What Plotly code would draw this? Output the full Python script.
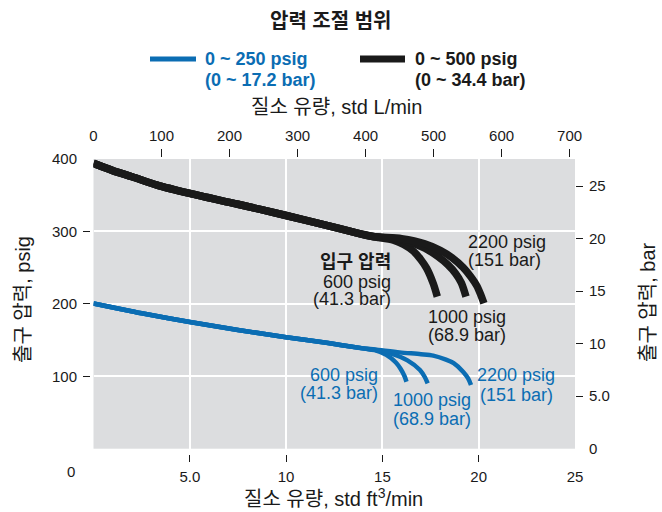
import plotly.graph_objects as go

# ---------------- data ----------------
# 0 ~ 500 psig regulator: shared part, then three inlet-pressure tails
blk_shared_ft = [0, 1, 2, 3.3, 5, 7.5, 10, 12, 13.5, 14.5]
blk_shared_psi = [394, 384, 375.5, 364, 352.5, 337.5, 322, 309, 299, 293]
blk600_ft = [15.57, 16.1, 16.6, 17.0, 17.3, 17.64, 17.85]
blk600_psi = [288, 282, 273, 261, 249, 228, 210]
blk1000_ft = [16.0, 17.2, 17.9, 18.4, 18.8, 19.1, 19.34]
blk1000_psi = [288.5, 277, 265, 254, 242, 229, 210]
blk2200_ft = [16.0, 17.2, 18.0, 18.6, 19.2, 19.6, 19.9, 20.1, 20.27]
blk2200_psi = [290, 283, 274, 264, 250, 237, 225, 213, 200.7]

# 0 ~ 250 psig regulator
blu_shared_ft = [0, 1.2, 2.5, 5, 7.5, 10, 12, 14]
blu_shared_psi = [200.5, 194, 187, 175, 164, 154, 146.5, 138.5]
blu600_ft = [14.6, 15.2, 15.7, 15.95, 16.15, 16.25]
blu600_psi = [136, 129.5, 119, 110, 100, 92.5]
blu1000_ft = [14.6, 15.5, 16.3, 16.95, 17.2, 17.35]
blu1000_psi = [136.5, 131, 122, 108.7, 99, 90.3]
blu2200_ft = [14.6, 15.9, 17.0, 17.64, 18.3, 18.7, 19.2, 19.45, 19.6]
blu2200_psi = [137, 133, 130.5, 128.5, 123, 118, 106, 97, 88]

# axes
x_ticks = [5, 10, 15, 20]
x_labels_vals = [5, 10, 15, 20, 25]
x_labels_text = ["5.0", "10", "15", "20", "25"]
top_ticks = [100, 200, 300, 400, 500, 600, 700]
top_label_vals = [0, 100, 200, 300, 400, 500, 600, 700]
y_ticks = [100, 200, 300]
y_label_vals = [100, 200, 300, 400]
bar_ticks = [5, 10, 15, 20, 25]
bar_label_vals = [0, 5, 10, 15, 20, 25]
bar_label_text = ["0", "5.0", "10", "15", "20", "25"]

L_PER_FT3 = 28.3168
PSI_PER_BAR = 14.5038
X_MAX = 25
Y_MAX = 400

# ---------------- style ----------------
W, H = 662, 512
BLUE = "#0b6db3"
INK = "#1a1a1a"
BG = "#dcdddf"
FONT = "Liberation Sans, Arial, Noto Sans CJK KR, sans-serif"


def px(x):
    return x / W


def py(y):
    return 1 - y / H


XD = [px(93.5), px(575)]
YD = [py(448.7), py(159)]

fig = go.Figure()

def add_curve(xs, ys, color, width):
    fig.add_trace(go.Scatter(x=xs, y=ys, mode="lines",
                             line=dict(color=color, width=width, shape="spline", smoothing=0.8),
                             showlegend=False, hoverinfo="skip"))

for ft, psi in [(blu600_ft, blu600_psi), (blu1000_ft, blu1000_psi), (blu2200_ft, blu2200_psi)]:
    add_curve(blu_shared_ft + ft, blu_shared_psi + psi, BLUE, 4.5)
for ft, psi in [(blk600_ft, blk600_psi), (blk1000_ft, blk1000_psi), (blk2200_ft, blk2200_psi)]:
    add_curve(blk_shared_ft + ft, blk_shared_psi + psi, INK, 7.5)

# dummy traces so the decorative axes render
for xa, ya in [("x2", "y"), ("x3", "y"), ("x4", "y"), ("x5", "y"),
               ("x", "y2"), ("x", "y3"), ("x", "y4"), ("x", "y5")]:
    fig.add_trace(go.Scatter(x=[None], y=[None], xaxis=xa, yaxis=ya, mode="lines",
                             showlegend=False, hoverinfo="skip"))

tickfont = dict(family=FONT, size=15, color=INK)
base = dict(showgrid=False, zeroline=False, showline=False, fixedrange=True)

bot_pos = py(453.7)
top_pos = py(156.5)
left_pos = px(90)

fig.update_layout(
    width=W, height=H,
    margin=dict(l=0, r=0, t=0, b=0, autoexpand=False),
    paper_bgcolor="white", plot_bgcolor=BG,
    font=dict(family=FONT, color=INK),
    xaxis=dict(domain=XD, range=[0, X_MAX], tickmode="array", tickvals=x_ticks,
               showgrid=True, gridcolor="white", gridwidth=1.5, showticklabels=False,
               ticks="", zeroline=False, showline=False, fixedrange=True),
    yaxis=dict(domain=YD, range=[0, Y_MAX], tickmode="array", tickvals=y_ticks,
               showgrid=True, gridcolor="white", gridwidth=1.5, showticklabels=False,
               ticks="", zeroline=False, showline=False, fixedrange=True),
    # bottom labels
    xaxis3=dict(base, overlaying="x", anchor="free", position=bot_pos, side="bottom",
                range=[0, X_MAX], tickmode="array", tickvals=x_labels_vals, ticktext=x_labels_text,
                ticks="outside", ticklen=7, tickcolor="rgba(0,0,0,0)", tickfont=tickfont,
                ticklabelstandoff=2),
    # bottom tick marks
    xaxis5=dict(base, overlaying="x", anchor="free", position=bot_pos, side="bottom",
                range=[0, X_MAX], tickmode="array", tickvals=x_ticks, showticklabels=False,
                ticks="outside", ticklen=7, tickwidth=1.2, tickcolor=INK),
    # top labels (L/min)
    xaxis2=dict(base, overlaying="x", anchor="free", position=top_pos, side="top",
                range=[0, X_MAX * L_PER_FT3], tickmode="array", tickvals=top_label_vals,
                ticks="outside", ticklen=8, tickcolor="rgba(0,0,0,0)", tickfont=tickfont,
                ticklabelstandoff=2),
    xaxis4=dict(base, overlaying="x", anchor="free", position=top_pos, side="top",
                range=[0, X_MAX * L_PER_FT3], tickmode="array", tickvals=top_ticks,
                showticklabels=False, ticks="outside", ticklen=8, tickwidth=1.2, tickcolor=INK),
    # left labels (psig)
    yaxis3=dict(base, overlaying="y", anchor="free", position=left_pos, side="left",
                range=[0, Y_MAX], tickmode="array", tickvals=y_label_vals,
                ticks="outside", ticklen=7, tickcolor="rgba(0,0,0,0)", tickfont=tickfont,
                ticklabelstandoff=3),
    yaxis4=dict(base, overlaying="y", anchor="free", position=left_pos, side="left",
                range=[0, Y_MAX], tickmode="array", tickvals=y_ticks, showticklabels=False,
                ticks="outside", ticklen=7, tickwidth=1.2, tickcolor=INK),
    # right labels (bar)
    yaxis2=dict(base, overlaying="y", anchor="x", side="right",
                range=[0, Y_MAX / PSI_PER_BAR], tickmode="array", tickvals=bar_label_vals,
                ticktext=bar_label_text, ticks="outside", ticklen=7, tickcolor="rgba(0,0,0,0)",
                tickfont=tickfont, ticklabelstandoff=3),
    yaxis5=dict(base, overlaying="y", anchor="x", side="right",
                range=[0, Y_MAX / PSI_PER_BAR], tickmode="array", tickvals=bar_ticks,
                showticklabels=False, ticks="outside", ticklen=7, tickwidth=1.2, tickcolor=INK),
)

ann = []

def text(x, y, s, size=18, color=INK, xanchor="center", xref="paper", yref="paper",
         textangle=0, bold=False):
    if bold:
        s = "<b>" + s + "</b>"
    ann.append(dict(x=x, y=y, xref=xref, yref=yref, text=s, showarrow=False,
                    xanchor=xanchor, yanchor="middle", textangle=textangle,
                    font=dict(family=FONT, size=size, color=color)))

# title & legend
text(px(331), py(21), "압력 조절 범위", size=20, bold=True)
text(px(203), py(59), "0 ~ 250 psig", size=18, color=BLUE, xanchor="left", bold=True)
text(px(203), py(80), "(0 ~ 17.2 bar)", size=18, color=BLUE, xanchor="left", bold=True)
text(px(413), py(59), "0 ~ 500 psig", size=18, xanchor="left", bold=True)
text(px(413), py(80), "(0 ~ 34.4 bar)", size=18, xanchor="left", bold=True)

# axis titles
text(px(336), py(107), "질소 유량, std L/min", size=20)
text(px(333), py(497), "질소 유량, std ft<sup>3</sup>/min", size=20)
text(px(23), py(300), "출구 압력, psig", size=20, textangle=-90)
text(px(648), py(302), "출구 압력, bar", size=20, textangle=-90)
# shared corner zero
text(px(77.3), py(471), "0", size=15, xanchor="right")

# curve labels (data coordinates)
lab = [
    (15.55, 257.8, "입구 압력", INK, "right", True),
    (15.55, 230.6, "600 psig", INK, "right", False),
    (15.55, 206.7, "(41.3 bar)", INK, "right", False),
    (17.28, 182.3, "1000 psig", INK, "left", False),
    (17.28, 157.0, "(68.9 bar)", INK, "left", False),
    (19.34, 285.8, "2200 psig", INK, "left", False),
    (19.34, 260.5, "(151 bar)", INK, "left", False),
    (14.85, 101.8, "600 psig", BLUE, "right", False),
    (14.85, 76.5, "(41.3 bar)", BLUE, "right", False),
    (17.6, 67.2, "1000 psig", BLUE, "center", False),
    (17.6, 41.0, "(68.9 bar)", BLUE, "center", False),
    (21.96, 101.8, "2200 psig", BLUE, "center", False),
    (21.96, 74.5, "(151 bar)", BLUE, "center", False),
]
for x, y, s, c, xa, b in lab:
    text(x, y, s, size=18, color=c, xanchor=xa, xref="x", yref="y", bold=b)

fig.update_layout(annotations=ann)

# legend sample lines
fig.update_layout(shapes=[
    dict(type="line", xref="paper", yref="paper", x0=px(150), x1=px(196), y0=py(59), y1=py(59),
         line=dict(color=BLUE, width=5)),
    dict(type="line", xref="paper", yref="paper", x0=px(360), x1=px(405), y0=py(59), y1=py(59),
         line=dict(color=INK, width=7)),
])

fig.write_html("out.html", config={"displayModeBar": False},
               post_script="document.body.style.margin='0';document.body.style.overflow='hidden';")
